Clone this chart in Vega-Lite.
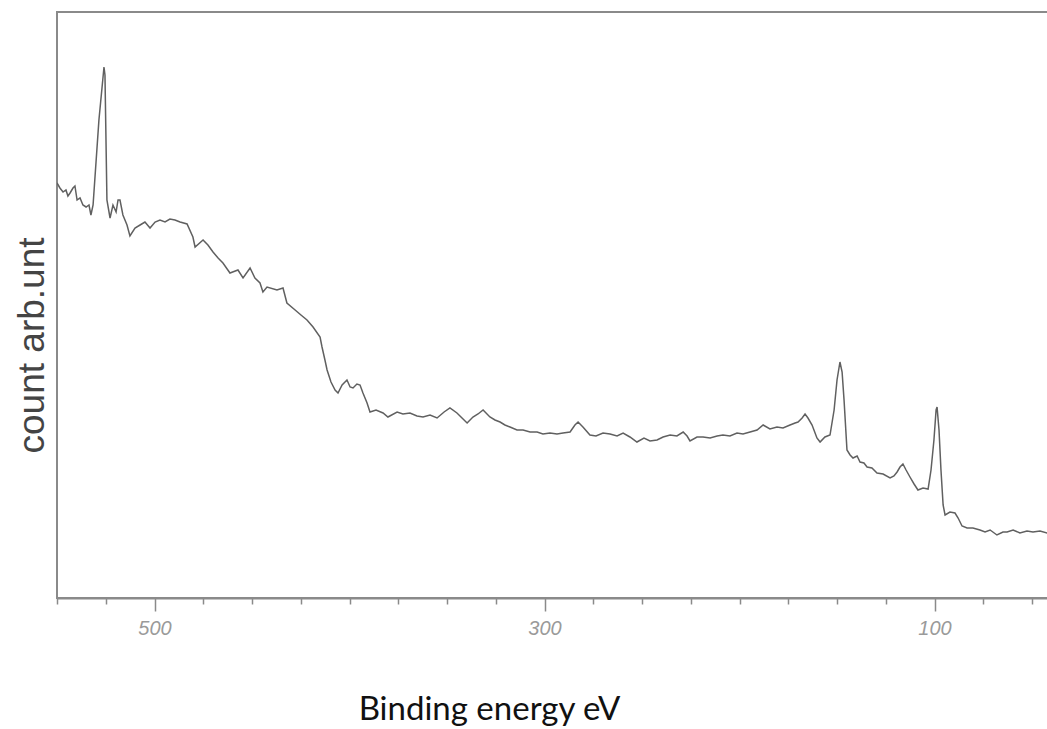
{
  "$schema": "https://vega.github.io/schema/vega-lite/v6.json",
  "width": 992,
  "height": 586,
  "autosize": {"type": "none"},
  "padding": {"left": 57, "top": 12, "right": 0, "bottom": 131},
  "background": "white",
  "config": {
    "view": {"stroke": "#8a8a8a", "strokeWidth": 2},
    "axis": {"grid": false}
  },
  "data": {
    "values": [
      {"e": 550.0, "c": 415}, {"e": 548.5, "c": 410}, {"e": 546.9, "c": 406}, {"e": 545.4, "c": 408},
      {"e": 544.4, "c": 402}, {"e": 543.3, "c": 405}, {"e": 541.8, "c": 410}, {"e": 540.8, "c": 412},
      {"e": 539.7, "c": 398}, {"e": 538.2, "c": 400}, {"e": 536.7, "c": 393}, {"e": 535.1, "c": 391},
      {"e": 533.6, "c": 393}, {"e": 532.6, "c": 383}, {"e": 531.5, "c": 393}, {"e": 528.5, "c": 478},
      {"e": 525.9, "c": 531}, {"e": 525.4, "c": 523}, {"e": 524.4, "c": 398}, {"e": 522.8, "c": 380},
      {"e": 521.3, "c": 393}, {"e": 519.7, "c": 386}, {"e": 518.7, "c": 398}, {"e": 517.7, "c": 398},
      {"e": 516.2, "c": 383}, {"e": 514.1, "c": 373}, {"e": 512.6, "c": 362}, {"e": 510.0, "c": 370},
      {"e": 507.4, "c": 373}, {"e": 504.9, "c": 376}, {"e": 502.3, "c": 370}, {"e": 499.7, "c": 376},
      {"e": 497.2, "c": 378}, {"e": 494.6, "c": 376}, {"e": 492.1, "c": 379}, {"e": 489.5, "c": 378},
      {"e": 486.9, "c": 376}, {"e": 483.3, "c": 374}, {"e": 480.3, "c": 361}, {"e": 479.2, "c": 351},
      {"e": 475.1, "c": 358}, {"e": 472.6, "c": 353}, {"e": 470.0, "c": 346}, {"e": 467.4, "c": 340},
      {"e": 464.9, "c": 335}, {"e": 461.3, "c": 325}, {"e": 457.2, "c": 328}, {"e": 454.6, "c": 320},
      {"e": 451.0, "c": 330}, {"e": 448.5, "c": 320}, {"e": 445.9, "c": 315}, {"e": 444.4, "c": 306},
      {"e": 442.3, "c": 311}, {"e": 437.2, "c": 308}, {"e": 434.1, "c": 310}, {"e": 432.1, "c": 295},
      {"e": 427.9, "c": 288}, {"e": 424.9, "c": 283}, {"e": 421.8, "c": 278}, {"e": 418.7, "c": 271},
      {"e": 415.1, "c": 261}, {"e": 414.1, "c": 251}, {"e": 412.6, "c": 238}, {"e": 411.5, "c": 228},
      {"e": 409.5, "c": 216}, {"e": 407.4, "c": 208}, {"e": 405.9, "c": 205}, {"e": 403.8, "c": 213},
      {"e": 401.3, "c": 218}, {"e": 399.7, "c": 211}, {"e": 398.2, "c": 210}, {"e": 396.2, "c": 214},
      {"e": 394.6, "c": 213}, {"e": 393.1, "c": 205}, {"e": 391.0, "c": 195}, {"e": 389.5, "c": 186},
      {"e": 386.4, "c": 188}, {"e": 382.8, "c": 185}, {"e": 380.3, "c": 181}, {"e": 375.6, "c": 186},
      {"e": 372.6, "c": 184}, {"e": 369.0, "c": 185}, {"e": 365.4, "c": 182}, {"e": 362.3, "c": 181},
      {"e": 358.7, "c": 183}, {"e": 355.1, "c": 180}, {"e": 351.5, "c": 186}, {"e": 348.5, "c": 190},
      {"e": 344.9, "c": 185}, {"e": 342.3, "c": 180}, {"e": 339.7, "c": 175}, {"e": 336.7, "c": 181},
      {"e": 334.1, "c": 184}, {"e": 331.5, "c": 188}, {"e": 328.0, "c": 181}, {"e": 325.4, "c": 178},
      {"e": 322.8, "c": 176}, {"e": 320.3, "c": 173}, {"e": 317.7, "c": 171}, {"e": 314.1, "c": 168},
      {"e": 311.0, "c": 168}, {"e": 307.4, "c": 166}, {"e": 303.8, "c": 166}, {"e": 300.8, "c": 164},
      {"e": 297.2, "c": 165}, {"e": 293.6, "c": 164}, {"e": 290.5, "c": 165}, {"e": 286.9, "c": 166},
      {"e": 284.4, "c": 173}, {"e": 282.8, "c": 176}, {"e": 280.3, "c": 171}, {"e": 276.7, "c": 163},
      {"e": 273.6, "c": 162}, {"e": 270.0, "c": 165}, {"e": 266.4, "c": 164}, {"e": 262.8, "c": 162},
      {"e": 259.7, "c": 165}, {"e": 256.2, "c": 161}, {"e": 252.6, "c": 156}, {"e": 249.0, "c": 160},
      {"e": 245.9, "c": 157}, {"e": 242.3, "c": 158}, {"e": 239.2, "c": 161}, {"e": 235.6, "c": 163},
      {"e": 232.1, "c": 162}, {"e": 228.9, "c": 166}, {"e": 226.9, "c": 162}, {"e": 225.4, "c": 157},
      {"e": 221.8, "c": 161}, {"e": 218.7, "c": 161}, {"e": 215.1, "c": 160}, {"e": 211.5, "c": 162},
      {"e": 208.5, "c": 163}, {"e": 204.9, "c": 162}, {"e": 201.3, "c": 165}, {"e": 198.2, "c": 164},
      {"e": 194.6, "c": 166}, {"e": 191.0, "c": 168}, {"e": 187.9, "c": 173}, {"e": 184.4, "c": 169},
      {"e": 180.8, "c": 171}, {"e": 177.7, "c": 170}, {"e": 174.1, "c": 173}, {"e": 171.5, "c": 175},
      {"e": 170.0, "c": 176}, {"e": 167.9, "c": 180}, {"e": 166.4, "c": 184}, {"e": 164.9, "c": 180},
      {"e": 162.8, "c": 173}, {"e": 160.3, "c": 160}, {"e": 158.7, "c": 156}, {"e": 156.2, "c": 161},
      {"e": 153.6, "c": 163}, {"e": 151.5, "c": 188}, {"e": 150.0, "c": 218}, {"e": 148.5, "c": 236},
      {"e": 147.4, "c": 226}, {"e": 146.4, "c": 198}, {"e": 144.9, "c": 148}, {"e": 143.3, "c": 143},
      {"e": 141.8, "c": 140}, {"e": 139.7, "c": 142}, {"e": 138.2, "c": 136}, {"e": 136.2, "c": 135},
      {"e": 134.6, "c": 131}, {"e": 132.1, "c": 130}, {"e": 129.5, "c": 125}, {"e": 126.4, "c": 124},
      {"e": 122.8, "c": 120}, {"e": 120.8, "c": 122}, {"e": 119.2, "c": 126}, {"e": 117.7, "c": 131},
      {"e": 116.2, "c": 134}, {"e": 114.6, "c": 128}, {"e": 112.6, "c": 121}, {"e": 110.5, "c": 114},
      {"e": 108.5, "c": 108}, {"e": 105.9, "c": 110}, {"e": 103.3, "c": 109}, {"e": 101.8, "c": 128},
      {"e": 100.3, "c": 158}, {"e": 99.2, "c": 188}, {"e": 98.7, "c": 191}, {"e": 97.7, "c": 168},
      {"e": 96.7, "c": 128}, {"e": 95.6, "c": 93}, {"e": 94.6, "c": 83}, {"e": 92.1, "c": 86},
      {"e": 89.5, "c": 85}, {"e": 87.9, "c": 80}, {"e": 85.9, "c": 72}, {"e": 83.3, "c": 70},
      {"e": 80.3, "c": 70}, {"e": 76.7, "c": 68}, {"e": 74.1, "c": 66}, {"e": 71.5, "c": 68},
      {"e": 68.0, "c": 63}, {"e": 64.9, "c": 66}, {"e": 62.8, "c": 66}, {"e": 59.7, "c": 68},
      {"e": 56.2, "c": 65}, {"e": 52.6, "c": 67}, {"e": 49.5, "c": 66}, {"e": 45.9, "c": 67},
      {"e": 42.3, "c": 65}, {"e": 41.3, "c": 66}
    ]
  },
  "mark": {"type": "line", "color": "#606060", "strokeWidth": 1.5, "clip": true},
  "encoding": {
    "x": {
      "field": "e",
      "type": "quantitative",
      "scale": {"domain": [550, 41.3], "nice": false, "zero": false},
      "axis": {
        "title": "Binding energy eV",
        "titleFont": "Lato",
        "titleFontSize": 33,
        "titleFontWeight": "normal",
        "titleColor": "#111111",
        "titleX": 432,
        "titleY": 121,
        "titleAnchor": null,
        "titleAlign": "center",
        "titleBaseline": "alphabetic",
        "values": [550, 525, 500, 475, 450, 425, 400, 375, 350, 325, 300, 275, 250, 225, 200, 175, 150, 125, 100, 75, 50],
        "labelExpr": "datum.value % 200 == 100 ? datum.value : ''",
        "labelFont": "Liberation Sans",
        "labelFontStyle": "italic",
        "labelFontSize": 20,
        "labelColor": "#9a9a9a",
        "labelPadding": 7,
        "labelOverlap": false,
        "labelFlush": false,
        "tickSize": {"condition": {"test": "datum.value % 200 == 100", "value": 13}, "value": 6},
        "tickColor": "#8a8a8a",
        "tickWidth": 1.5,
        "domainColor": "#8a8a8a",
        "domainWidth": 2
      }
    },
    "y": {
      "field": "c",
      "type": "quantitative",
      "scale": {"domain": [0, 586], "nice": false, "zero": false},
      "axis": {
        "title": "count arb.unt",
        "titleFont": "Liberation Sans",
        "titleFontSize": 37,
        "titleFontWeight": "normal",
        "titleColor": "#444444",
        "titleAngle": 270,
        "titleX": -14,
        "titleY": 333,
        "titleAlign": "center",
        "titleBaseline": "alphabetic",
        "labels": false,
        "ticks": false,
        "domain": false
      }
    }
  }
}
